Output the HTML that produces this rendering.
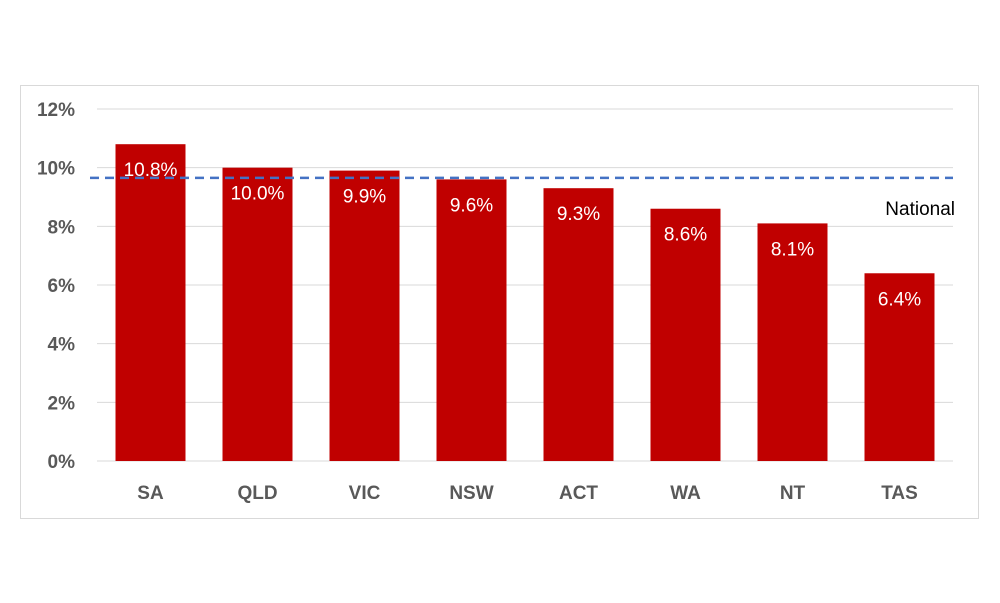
<!DOCTYPE html>
<html><head><meta charset="utf-8"><style>
body{margin:0;background:#fff;}
svg{display:block;font-family:"Liberation Sans",sans-serif;}
</style></head><body>
<svg width="1000" height="603">
<rect x="20.5" y="85.5" width="958" height="433" fill="#fff" stroke="#d9d9d9"/>
<g id="grid"></g><g id="bars"></g><g id="labels"></g>
</svg>
<script>
const categories=["SA","QLD","VIC","NSW","ACT","WA","NT","TAS"];
const values=[10.8,10.0,9.9,9.6,9.3,8.6,8.1,6.4];
const valueLabels=["10.8%","10.0%","9.9%","9.6%","9.3%","8.6%","8.1%","6.4%"];
const ticks=[0,2,4,6,8,10,12];
const nationalValue=9.65;
const NS="http://www.w3.org/2000/svg";
const x0=97,x1=953,y0=461,y1=109,maxV=12;
const y=v=>y0-(v/maxV)*(y0-y1);
const band=(x1-x0)/categories.length;
const cx=i=>x0+band*(i+0.5);
const svg=document.querySelector("svg");
function mk(t,a,p){const e=document.createElementNS(NS,t);for(const k in a)e.setAttribute(k,a[k]);(p||svg).appendChild(e);return e;}
const g=document.getElementById("grid"),b=document.getElementById("bars"),l=document.getElementById("labels");
ticks.forEach(t=>{
 const ln=mk("line",{x1:x0,x2:x1,y1:y(t),y2:y(t),stroke:"#d9d9d9","stroke-width":1},g);
 
 
 const tx=mk("text",{x:75,y:y(t)+7,"text-anchor":"end","font-size":19,"font-weight":"bold",fill:"#595959"},l);
 tx.textContent=t+"%";
 
 
});
categories.forEach((c,i)=>{
 const w=70;
 const r=mk("rect",{x:cx(i)-w/2,y:y(values[i]),width:w,height:y0-y(values[i]),fill:"#c00000"},b);
 
 
 const v=mk("text",{x:cx(i),y:y(values[i])+32,"text-anchor":"middle","font-size":19,fill:"#fff"},l);
 v.textContent=valueLabels[i];
 
 
 const t=mk("text",{x:cx(i),y:499,"text-anchor":"middle","font-size":19,"font-weight":"bold",fill:"#595959"},l);
 t.textContent=c;
 
 
});
const nl=mk("line",{x1:90,x2:953,y1:y(nationalValue),y2:y(nationalValue),stroke:"#4472c4","stroke-width":2.5,"stroke-dasharray":"9,6"});


const nt=mk("text",{x:955,y:215,"text-anchor":"end","font-size":19,fill:"#000"});
nt.textContent="National";


</script>
</body></html>
